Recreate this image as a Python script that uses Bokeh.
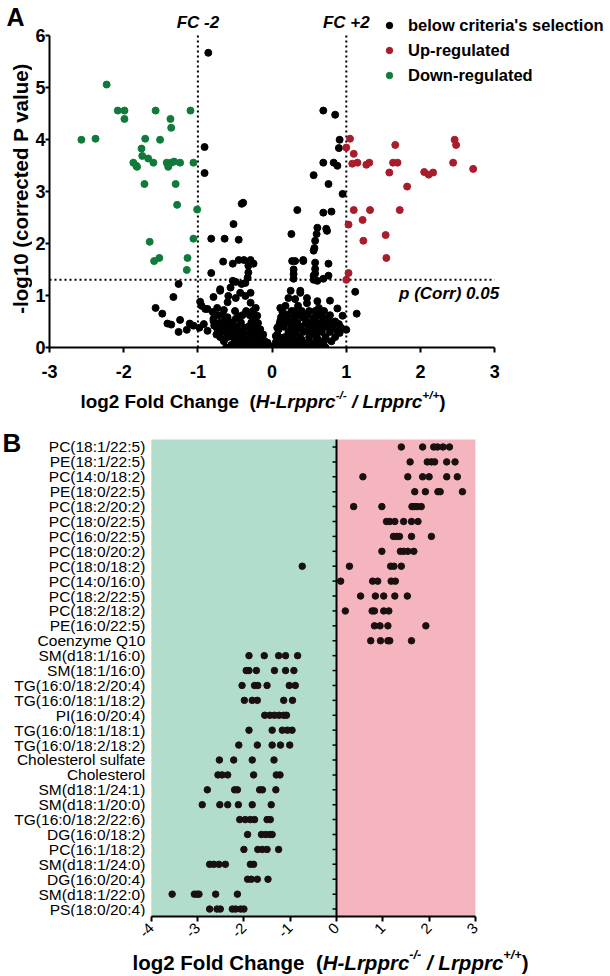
import math
from bokeh.plotting import figure
from bokeh.models import Label, Legend, LegendItem, FixedTicker, Range1d, BoxAnnotation
from bokeh.layouts import column, row
from bokeh.embed import file_html
from bokeh.resources import INLINE
from bokeh.core.properties import value

# ---------------- Panel A data (volcano plot) ----------------
down_pts = [(-2.23, 5.05), (-2.57, 3.99), (-2.38, 4.01), (-2.08, 4.55), (-1.99, 4.55), (-1.99, 4.39),
            (-1.57, 4.55), (-1.10, 4.55), (-1.37, 4.39), (-1.36, 4.22), (-1.71, 4.01), (-1.51, 3.99),
            (-1.76, 3.82), (-1.75, 3.68), (-1.67, 3.63), (-1.87, 3.55), (-1.83, 3.49), (-1.82, 3.47),
            (-1.60, 3.55), (-1.42, 3.55), (-1.40, 3.47), (-1.36, 3.55), (-1.32, 3.57), (-1.24, 3.55),
            (-1.06, 3.55), (-1.72, 3.14), (-1.30, 3.14), (-1.28, 2.74), (-1.01, 2.65), (-1.65, 2.03),
            (-1.59, 1.66), (-1.52, 1.72), (-1.06, 2.09), (-1.14, 1.72), (-1.15, 1.49)]
up_pts = [(1.05, 4.01), (1.00, 3.84), (1.10, 3.72), (1.08, 3.53), (1.15, 3.55), (1.27, 3.51),
          (1.31, 3.55), (1.63, 3.55), (1.69, 3.55), (1.66, 3.89), (1.58, 3.36), (1.82, 3.09),
          (2.05, 3.37), (2.11, 3.32), (2.17, 3.36), (2.46, 3.99), (2.48, 3.89), (2.44, 3.55),
          (2.71, 3.43), (1.10, 2.64), (1.32, 2.64), (1.72, 2.64), (1.22, 2.45), (1.03, 2.36),
          (1.53, 2.16), (1.23, 2.05), (1.54, 1.72), (1.03, 1.43), (1.00, 1.30)]
other_pts = [(-0.86, 5.66), (-0.91, 3.85), (-0.91, 3.35), (0.69, 4.55), (0.85, 4.47), (0.91, 3.99),
             (0.90, 3.83), (0.69, 3.55), (0.83, 3.55), (0.88, 3.49), (0.56, 3.31), (0.76, 3.14),
             (0.95, 2.95), (-0.39, 2.78), (-0.41, 2.76), (-0.52, 2.37), (0.34, 2.64), (0.69, 2.59),
             (0.80, 2.61), (0.61, 2.30), (0.73, 2.28), (0.74, 2.24), (0.60, 2.18), (0.26, 2.18),
             (0.58, 2.05), (-0.82, 2.09), (-0.64, 2.09), (-0.45, 2.07), (0.56, 1.86), (0.57, 1.91),
             (0.42, 1.68), (0.58, 1.63), (0.76, 1.61), (0.58, 1.51), (0.56, 1.38), (0.76, 1.38),
             (0.56, 1.30), (0.58, 1.42), (0.61, 1.28), (0.69, 1.32),
             (-0.66, 1.65), (-0.53, 1.61), (-0.45, 1.68), (-0.38, 1.68), (-0.29, 1.68), (-0.25, 1.61),
             (-0.32, 1.57), (-0.32, 1.44), (-0.33, 1.34), (-0.36, 1.24), (-0.41, 1.22), (-0.49, 1.26),
             (-0.56, 1.15), (-0.70, 1.09), (-0.79, 0.97), (-0.82, 1.43),
             (0.27, 1.66), (0.31, 1.66), (0.42, 1.66), (0.29, 1.41), (0.29, 1.32), (0.29, 1.50),
             (0.25, 1.09), (0.22, 0.95), (0.31, 0.93), (0.38, 1.05), (0.47, 0.95), (0.47, 0.85),
             (0.61, 0.89), (0.63, 0.76), (1.12, 1.07), (1.14, 0.65), (0.95, 0.61), (1.00, 0.34),
             (0.91, 0.28), (0.38, 1.09), (0.85, 0.50), (0.78, 0.90), (0.88, 0.75),
             (-1.33, 0.97), (-1.26, 1.22), (-1.57, 0.76), (-1.48, 0.65), (-1.41, 0.46), (-1.36, 0.44),
             (-1.26, 0.30), (-1.24, 0.53), (-1.11, 0.46), (-1.06, 0.42), (-1.15, 0.34), (-0.97, 0.88),
             (-0.90, 0.74), (-0.87, 0.74), (-0.74, 0.76), (-0.79, 0.51), (-0.70, 0.38), (-0.87, 0.32),
             (-0.60, 0.28), (-0.52, 0.19), (-0.80, 0.68), (-0.65, 0.72), (-0.60, 0.87), (-0.49, 0.95),
             (-0.43, 1.05), (-0.36, 0.99), (-0.29, 1.05), (-0.29, 0.86), (-0.22, 0.76), (-0.20, 0.61),
             (-0.79, 0.55), (-0.63, 0.51), (-0.49, 0.55), (-0.56, 0.38), (-0.74, 0.36), (-0.38, 0.38),
             (-0.33, 0.26), (-0.20, 0.28), (-0.13, 0.19), (-0.06, 0.09), (0.00, 0.00), (-0.53, 1.28),
             (-0.59, 0.99), (-0.70, 1.12), (-0.95, 0.80), (-0.92, 0.45), (-0.98, 0.38),
             (0.11, 0.76), (0.16, 0.65), (0.11, 0.51), (0.07, 0.38), (0.05, 0.22), (0.20, 0.51),
             (0.29, 0.57), (0.42, 0.57), (0.56, 0.57), (0.69, 0.57), (0.74, 0.46), (0.81, 0.38),
             (0.88, 0.32), (0.34, 0.38), (0.47, 0.32), (0.61, 0.32), (0.25, 0.26), (0.11, 0.19),
             (0.18, 0.80), (0.50, 0.70), (0.70, 0.70), (0.35, 0.80),
             (-0.55, 0.05), (-0.45, 0.05), (-0.35, 0.05), (-0.25, 0.05), (-0.15, 0.05), (-0.08, 0.05),
             (0.08, 0.05), (0.15, 0.05), (0.25, 0.05), (0.35, 0.05), (0.45, 0.05), (0.55, 0.05), (0.65, 0.05),
             (-0.65, 0.12), (-0.50, 0.12), (-0.40, 0.12), (-0.30, 0.12), (-0.20, 0.12), (-0.10, 0.12),
             (0.10, 0.12), (0.20, 0.12), (0.30, 0.12), (0.40, 0.12), (0.50, 0.12), (0.60, 0.12), (0.70, 0.12), (0.80, 0.12),
             (-0.70, 0.20), (-0.60, 0.20), (-0.45, 0.20), (-0.35, 0.20), (-0.25, 0.20), (-0.17, 0.20),
             (0.17, 0.20), (0.27, 0.20), (0.37, 0.20), (0.50, 0.20), (0.60, 0.20), (0.72, 0.20), (0.85, 0.20),
             (-0.68, 0.30), (-0.50, 0.30), (-0.42, 0.30), (-0.28, 0.30),
             (0.22, 0.30), (0.32, 0.30), (0.42, 0.30), (0.55, 0.30), (0.67, 0.30), (0.78, 0.30),
             (-0.62, 0.40), (-0.48, 0.40), (-0.32, 0.40), (-0.25, 0.40),
             (0.16, 0.40), (0.26, 0.40), (0.38, 0.40), (0.52, 0.40), (0.64, 0.40), (0.72, 0.40),
             (-0.70, 0.48), (-0.55, 0.48), (-0.42, 0.48), (-0.28, 0.48),
             (0.14, 0.48), (0.24, 0.48), (0.34, 0.48), (0.48, 0.48), (0.60, 0.48),
             (-0.72, 0.62), (-0.40, 0.62), (-0.30, 0.62), (0.20, 0.62), (0.36, 0.62), (0.48, 0.62),
             (0.62, 0.62), (0.78, 0.62), (-0.50, 0.70), (-0.35, 0.70), (0.26, 0.70), (0.40, 0.70), (0.58, 0.70),
             (-0.62, 0.00), (-0.48, 0.00), (-0.38, 0.00), (-0.28, 0.00), (-0.18, 0.00), (-0.10, 0.00),
             (-0.03, 0.02), (0.03, 0.02), (0.12, 0.00), (0.20, 0.00), (0.30, 0.00), (0.40, 0.00),
             (0.50, 0.00), (0.60, 0.00), (0.72, 0.00),
             (-0.08, 0.10), (0.05, 0.10), (-0.12, 0.25), (0.07, 0.25), (-0.16, 0.35), (0.09, 0.35),
             (-0.19, 0.47), (0.10, 0.45), (-0.23, 0.55), (0.12, 0.58), (0.14, 0.68),
             (-0.58, 0.25), (-0.38, 0.25), (-0.22, 0.38), (0.30, 0.35), (0.45, 0.45), (0.58, 0.42),
             (0.68, 0.50), (0.82, 0.45), (0.90, 0.45), (0.40, 0.15), (0.62, 0.15), (-0.52, 0.42),
             (-0.60, 0.58), (-0.45, 0.60), (0.28, 0.45), (0.55, 0.50), (0.45, 0.62), (0.66, 0.66),
             (-0.75, 0.25), (-0.78, 0.42), (0.93, 0.38), (0.76, 0.56), (0.30, 0.70), (-0.26, 0.70),
             (-0.66, 0.62)]

fc_lines = [-1, 1]
p_line = 1.301          # -log10(0.05)
a_xticks = [-3, -2, -1, 0, 1, 2, 3]
a_xtick_labels = ["-3", "-2", "-1", "0", "1", "2", "3"]
a_yticks = [0, 1, 2, 3, 4, 5, 6]
a_ytick_labels = ["0", "1", "2", "3", "4", "5", "6"]
legend_labels = ["below criteria's selection", "Up-regulated", "Down-regulated"]

# ---------------- Panel B data (strip plot) ----------------
lipids = ["PC(18:1/22:5)", "PE(18:1/22:5)", "PC(14:0/18:2)", "PE(18:0/22:5)", "PC(18:2/20:2)",
          "PC(18:0/22:5)", "PC(16:0/22:5)", "PC(18:0/20:2)", "PC(18:0/18:2)", "PC(14:0/16:0)",
          "PC(18:2/22:5)", "PC(18:2/18:2)", "PE(16:0/22:5)", "Coenzyme Q10", "SM(d18:1/16:0)",
          "SM(18:1/16:0)", "TG(16:0/18:2/20:4)", "TG(16:0/18:1/18:2)", "PI(16:0/20:4)",
          "TG(16:0/18:1/18:1)", "TG(16:0/18:2/18:2)", "Cholesterol sulfate", "Cholesterol",
          "SM(d18:1/24:1)", "SM(d18:1/20:0)", "TG(16:0/18:2/22:6)", "DG(16:0/18:2)",
          "PC(16:1/18:2)", "SM(d18:1/24:0)", "DG(16:0/20:4)", "SM(d18:1/22:0)", "PS(18:0/20:4)"]
lipid_fc = [
    [1.40, 1.86, 2.10, 2.18, 2.30, 2.44],
    [1.59, 1.96, 2.05, 2.12, 2.38, 2.56],
    [0.57, 1.54, 1.86, 2.00, 2.38, 2.61],
    [1.69, 1.92, 2.19, 2.24, 2.72],
    [0.37, 0.98, 1.63, 1.68, 1.74, 1.83],
    [1.08, 1.15, 1.26, 1.45, 1.62, 1.76],
    [1.23, 1.30, 1.36, 1.62, 2.05],
    [0.98, 1.38, 1.45, 1.54, 1.67],
    [-0.74, 0.28, 1.17, 1.24, 1.40],
    [0.09, 0.78, 0.89, 1.18, 1.27],
    [0.52, 0.84, 1.02, 1.26, 1.53],
    [0.19, 0.77, 0.82, 1.02, 1.13],
    [0.82, 0.94, 1.11, 1.93],
    [0.74, 0.95, 1.11, 1.15, 1.62],
    [-1.89, -1.56, -1.25, -1.10, -0.84],
    [-1.95, -1.89, -1.73, -1.34, -1.10, -0.92],
    [-2.04, -1.77, -1.70, -1.50, -1.02, -0.89],
    [-1.99, -1.82, -1.71, -1.14, -0.95],
    [-1.55, -1.44, -1.34, -1.24, -1.14, -1.08],
    [-1.89, -1.39, -1.17, -1.06, -0.96],
    [-2.11, -1.71, -1.39, -1.21, -1.01],
    [-2.53, -2.22, -1.82, -1.35],
    [-2.56, -2.47, -2.35, -1.79, -1.30, -1.22],
    [-2.79, -2.20, -2.14, -1.66, -1.60, -1.31],
    [-2.90, -2.52, -2.35, -2.12, -1.82, -1.41],
    [-2.09, -1.97, -1.86, -1.77, -1.50, -1.43],
    [-1.92, -1.62, -1.53, -1.44, -1.39],
    [-2.00, -1.70, -1.60, -1.50, -1.25],
    [-2.74, -2.65, -2.54, -2.40, -1.86, -1.79],
    [-1.92, -1.84, -1.71, -1.48],
    [-3.55, -3.07, -3.01, -2.97, -2.61, -2.14],
    [-2.74, -2.58, -2.51, -2.25, -2.18, -2.07, -2.00],
]
b_region_bounds = [-4, 0, 3]
b_xticks = [-4, -3, -2, -1, 0, 1, 2, 3]
b_xtick_labels = ["-4", "-3", "-2", "-1", "0", "1", "2", "3"]

# ---------------- styling / layout constants ----------------
FONT = "Liberation Sans"
GREEN, RED, BLACK = "#0f7a3a", "#a81c2c", "#000000"
B_DOT = "#1a1010"
BG_GREEN, BG_PINK = "#b2dccb", "#f5b5be"
PAGE_W = 610

# Arial-metric widths (bold) in 1/1000 em, used to place the mixed-style axis titles
_WB = {' ': 278, '(': 333, ')': 333, '+': 584, '-': 333, '/': 278, 'C': 722, 'F': 611, 'H': 722,
       'L': 611, 'a': 556, 'c': 556, 'd': 611, 'e': 556, 'g': 611, 'h': 611, 'l': 278, 'n': 611,
       'o': 611, 'p': 611, 'r': 389}
for _d in "0123456789":
    _WB[_d] = 556


def tw(s, size):
    return sum(_WB.get(ch, 556) for ch in s) * size / 1000.0


def text_fig(w, h):
    f = figure(width=w, height=h, output_backend="svg", toolbar_location=None, title=None,
               x_range=Range1d(0, w), y_range=Range1d(h, 0), x_axis_location=None,
               y_axis_location=None, min_border=0, outline_line_color=None, frame_align=False)
    f.xgrid.visible = False
    f.ygrid.visible = False
    return f


def lab(f, x, y, text, size, style="normal", align="left", baseline="alphabetic", angle=0.0):
    f.add_layout(Label(x=x, y=y, text=text, text_font=FONT, text_font_size=size,
                       text_font_style=style, text_align=align, text_baseline=baseline,
                       angle=angle, text_color="black"))


def fancy_title(f, cx, base_y, size):
    sup = 0.62 * size
    rise = 0.36 * size
    parts = [("log2 Fold Change", size, "bold", 0.0, 0.0),
             ("(", size, "bold", tw("  ", size), 0.0),
             ("H-Lrpprc", size, "bold italic", 0.0, 0.0),
             ("-/-", sup, "bold italic", 0.0, rise),
             ("/ Lrpprc", size, "bold italic", tw(" ", size), 0.0),
             ("+/+", sup, "bold italic", 0.0, rise),
             (")", size, "bold", 0.0, 0.0)]
    total = sum(tw(t, s) + gap for t, s, _, gap, _ in parts)
    pos = cx - total / 2.0
    for t, s, style, gap, dy in parts:
        pos += gap
        lab(f, pos, base_y - dy, t, f"{s:.1f}px", style)
        pos += tw(t, s)


def style_axis(ax, size, weight, width):
    ax.axis_line_width = width
    ax.axis_line_color = "black"
    ax.major_tick_line_width = width
    ax.major_tick_line_color = "black"
    ax.major_tick_out = 5
    ax.major_tick_in = 0
    ax.minor_tick_out = 0
    ax.minor_tick_in = 0
    ax.major_label_text_font = FONT
    ax.major_label_text_font_size = size
    ax.major_label_text_font_style = weight
    ax.major_label_text_color = "black"


# ---------------- Panel A ----------------
A_H = 385
A_SIDE_W = 32          # strip holding the panel letter and the y title
A_LEFT, A_BOTTOM = 17, 38
A_PXX, A_PXY = 74.2, 52.07
A_W = PAGE_W - A_SIDE_W
pa = figure(width=A_W, height=A_H, output_backend="svg", toolbar_location=None, title=None,
            x_range=Range1d(a_xticks[0], a_xticks[0] + (A_W - A_LEFT) / A_PXX),
            y_range=Range1d(a_yticks[0], a_yticks[0] + (A_H - A_BOTTOM) / A_PXY),
            min_border_left=A_LEFT, min_border_right=0, min_border_top=0,
            min_border_bottom=A_BOTTOM, outline_line_color=None, frame_align=False)
pa.xgrid.visible = False
pa.ygrid.visible = False
style_axis(pa.xaxis[0], "18px", "bold", 2)
style_axis(pa.yaxis[0], "18px", "bold", 2)
pa.xaxis.ticker = FixedTicker(ticks=a_xticks)
pa.yaxis.ticker = FixedTicker(ticks=a_yticks)
pa.xaxis.major_label_overrides = dict(zip(a_xticks, a_xtick_labels))
pa.yaxis.major_label_overrides = dict(zip(a_yticks, a_ytick_labels))
pa.xaxis.bounds = (a_xticks[0], a_xticks[-1])
pa.yaxis.bounds = (a_yticks[0], a_yticks[-1])
pa.xaxis.major_label_standoff = 12
pa.yaxis.major_label_standoff = 0
pa.yaxis.major_tick_out = 4

pa.segment(x0=fc_lines, y0=[a_yticks[0]] * 2, x1=fc_lines, y1=[a_yticks[-1]] * 2,
           line_color="black", line_width=2, line_dash="2 3")
pa.segment(x0=[a_xticks[0]], y0=[p_line], x1=[a_xticks[-1]], y1=[p_line],
           line_color="black", line_width=2, line_dash="2 3")

r_other = pa.scatter([q[0] for q in other_pts], [q[1] for q in other_pts], size=7, color=BLACK)
r_up = pa.scatter([q[0] for q in up_pts], [q[1] for q in up_pts], size=7, color=RED)
r_down = pa.scatter([q[0] for q in down_pts], [q[1] for q in down_pts], size=7, color=GREEN)

leg = Legend(items=[LegendItem(label=legend_labels[0], renderers=[r_other]),
                    LegendItem(label=legend_labels[1], renderers=[r_up]),
                    LegendItem(label=legend_labels[2], renderers=[r_down])],
             location=(332, 262), padding=0, margin=0, spacing=5, glyph_width=16, glyph_height=20,
             label_height=20, label_standoff=11, border_line_color=None, background_fill_alpha=0,
             label_text_font=FONT, label_text_font_size="16.5px", label_text_font_style="bold",
             label_text_color="black")
pa.add_layout(leg)

lab(pa, fc_lines[0], 6.24, "FC -2", "17px", "bold italic", "center", "middle")
lab(pa, fc_lines[1], 6.24, "FC +2", "17px", "bold italic", "center", "middle")
lab(pa, 3.06, 1.03, "p (Corr) 0.05", "17px", "bold italic", "right", "middle")

fa_side = text_fig(A_SIDE_W, A_H)
lab(fa_side, 15, 16, "A", "25px", "bold", "center", "middle")
lab(fa_side, 20, 188, "-log10 (corrected P value)", "20.5px", "bold", "center", "middle",
    angle=math.pi / 2)

fa_title = text_fig(PAGE_W, 27)
fancy_title(fa_title, 262.5, 16, 18.9)

# ---------------- Panel B ----------------
B_H = 533
B_BOTTOM = 28
B_ZERO_PX, B_PXX, B_PXY = 336.0, 46.3, 14.935
n = len(lipids)
rows = [n - 1 - i for i in range(n)]
pb = figure(width=PAGE_W, height=B_H, output_backend="svg", toolbar_location=None, title=None,
            x_range=Range1d(-B_ZERO_PX / B_PXX, (PAGE_W - B_ZERO_PX) / B_PXX),
            y_range=Range1d(-0.5, -0.5 + (B_H - B_BOTTOM) / B_PXY),
            y_axis_location=None, min_border_left=0, min_border_right=0, min_border_top=0,
            min_border_bottom=B_BOTTOM, outline_line_color=None, frame_align=False)
pb.xgrid.visible = False
pb.ygrid.visible = False
pb.add_layout(BoxAnnotation(left=b_region_bounds[0], right=b_region_bounds[1], bottom=-0.5,
                            top=n - 0.5, fill_color=BG_GREEN, fill_alpha=1, line_color=None,
                            level="underlay"))
pb.add_layout(BoxAnnotation(left=b_region_bounds[1], right=b_region_bounds[2], bottom=-0.5,
                            top=n - 0.5, fill_color=BG_PINK, fill_alpha=1, line_color=None,
                            level="underlay"))

style_axis(pb.xaxis[0], "15px", "normal", 2)
pb.xaxis.ticker = FixedTicker(ticks=b_xticks)
pb.xaxis.major_label_overrides = dict(zip(b_xticks, b_xtick_labels))
pb.xaxis.bounds = (b_xticks[0], b_xticks[-1])
pb.xaxis.major_label_orientation = math.pi / 4
pb.xaxis.major_label_standoff = 4

# category names at the left edge of the plotted band
pb.text(x=[b_region_bounds[0]] * n, y=rows, text=lipids, x_offset=-6, text_font=value(FONT),
        text_font_size="15.5px", text_align="right", text_baseline="middle", text_color="black")

# axis crossing at x = 0 with its small ticks
pb.segment(x0=[b_region_bounds[1]], y0=[-0.5], x1=[b_region_bounds[1]], y1=[n - 0.5],
           line_color="black", line_width=2)
pb.segment(x0=[b_region_bounds[1]] * n, y0=rows, x1=[b_region_bounds[1] - 4 / B_PXX] * n, y1=rows,
           line_color="black", line_width=1.5)

bx, by = [], []
for r, vals in zip(rows, lipid_fc):
    for v in vals:
        bx.append(v)
        by.append(r)
pb.scatter(bx, by, size=6.5, color=B_DOT)

lab(pb, (11.5 - B_ZERO_PX) / B_PXX, 31.27, "B", "26px", "bold", "center", "middle")

fb_title = text_fig(PAGE_W, 31)
fancy_title(fb_title, 330, 17, 20.5)

layout = column(row(fa_side, pa, spacing=0), fa_title, pb, fb_title, spacing=0)
open("out.html", "w").write(file_html(layout, INLINE))
